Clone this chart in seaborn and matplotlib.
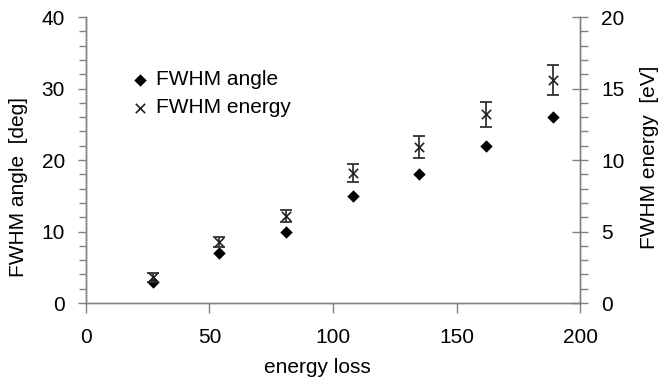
import numpy as np
import pandas as pd
import matplotlib
matplotlib.use("Agg")
from matplotlib import pyplot as plt
from matplotlib.ticker import MultipleLocator
import seaborn as sns

energy_loss = [27, 54, 81, 108, 135, 162, 189]
fwhm_angle = [3, 7, 10, 15, 18, 22, 26]
fwhm_energy = [1.8, 4.25, 6.1, 9.1, 10.9, 13.2, 15.6]
fwhm_energy_err = [0.3, 0.35, 0.4, 0.65, 0.75, 0.87, 1.07]

sns.set_theme(style="white")
plt.rcParams['font.family'] = ['Liberation Sans', 'DejaVu Sans']
plt.rcParams['text.color'] = 'black'
plt.rcParams['axes.labelcolor'] = 'black'
plt.rcParams['xtick.color'] = 'black'
plt.rcParams['ytick.color'] = 'black'
fs = 15

df = pd.DataFrame({'loss': energy_loss, 'angle': fwhm_angle,
                   'energy': fwhm_energy, 'err': fwhm_energy_err})

fig, ax = plt.subplots(figsize=(6.6, 3.79), dpi=100)
fig.subplots_adjust(left=0.130, right=0.879, top=0.955, bottom=0.2005)
ax2 = ax.twinx()

sns.scatterplot(data=df, x='loss', y='angle', ax=ax, marker='D', s=40,
                color='black', edgecolor='black', linewidth=0, zorder=3,
                label='FWHM angle', legend=False)
ax2.errorbar(df['loss'], df['energy'], yerr=df['err'], fmt='none',
             ecolor='#333333', elinewidth=1.3, capsize=4.5, capthick=1.3)
sns.scatterplot(data=df, x='loss', y='energy', ax=ax2, marker='x', s=45,
                color='#222222', linewidth=1.2, zorder=3,
                label='FWHM energy', legend=False)

ax.set_xlim(0, 200)
ax.set_ylim(0, 40)
ax2.set_ylim(0, 20)
ax.xaxis.set_major_locator(MultipleLocator(50))
ax.yaxis.set_major_locator(MultipleLocator(10))
ax.yaxis.set_minor_locator(MultipleLocator(2))
ax2.yaxis.set_major_locator(MultipleLocator(5))
ax2.yaxis.set_minor_locator(MultipleLocator(1))

ax.set_xlabel('energy loss', fontsize=fs)
ax.set_ylabel('FWHM angle  [deg]', fontsize=fs)
ax2.set_ylabel('FWHM energy  [eV]', fontsize=fs)
ax.xaxis.set_label_coords(0.469, -0.192)
ax.yaxis.set_label_coords(-0.117, 0.406)
ax2.yaxis.set_label_coords(1.1215, 0.51)

gray = '#808080'
for a in (ax, ax2):
    for side in ('left', 'right', 'bottom'):
        a.spines[side].set_visible(True)
        a.spines[side].set_color(gray)
        a.spines[side].set_linewidth(1.0)
    a.spines['top'].set_visible(False)

ax.tick_params(axis='x', which='major', direction='out', length=7, width=1,
               color=gray, labelsize=fs, bottom=True, pad=11)
ax.tick_params(axis='y', which='major', direction='out', length=6, width=1,
               color=gray, labelsize=fs, left=True, pad=9)
ax.tick_params(axis='y', which='minor', direction='out', length=5, width=1,
               color=gray, left=True)
ax2.tick_params(axis='y', which='major', direction='inout', length=12, width=1,
                color=gray, labelsize=fs, right=True, pad=9)
ax2.tick_params(axis='y', which='minor', direction='out', length=6, width=1,
                color=gray, right=True)

h1, l1 = ax.get_legend_handles_labels()
h2, l2 = ax2.get_legend_handles_labels()
ax.legend(h1 + h2, l1 + l2, loc='upper left', bbox_to_anchor=(0.203, 0.815),
          bbox_transform=fig.transFigure, frameon=False, fontsize=fs,
          handlelength=0.6, handletextpad=0.45, labelspacing=0.45,
          borderpad=0, borderaxespad=0)

fig.savefig('out.png', dpi=100)
